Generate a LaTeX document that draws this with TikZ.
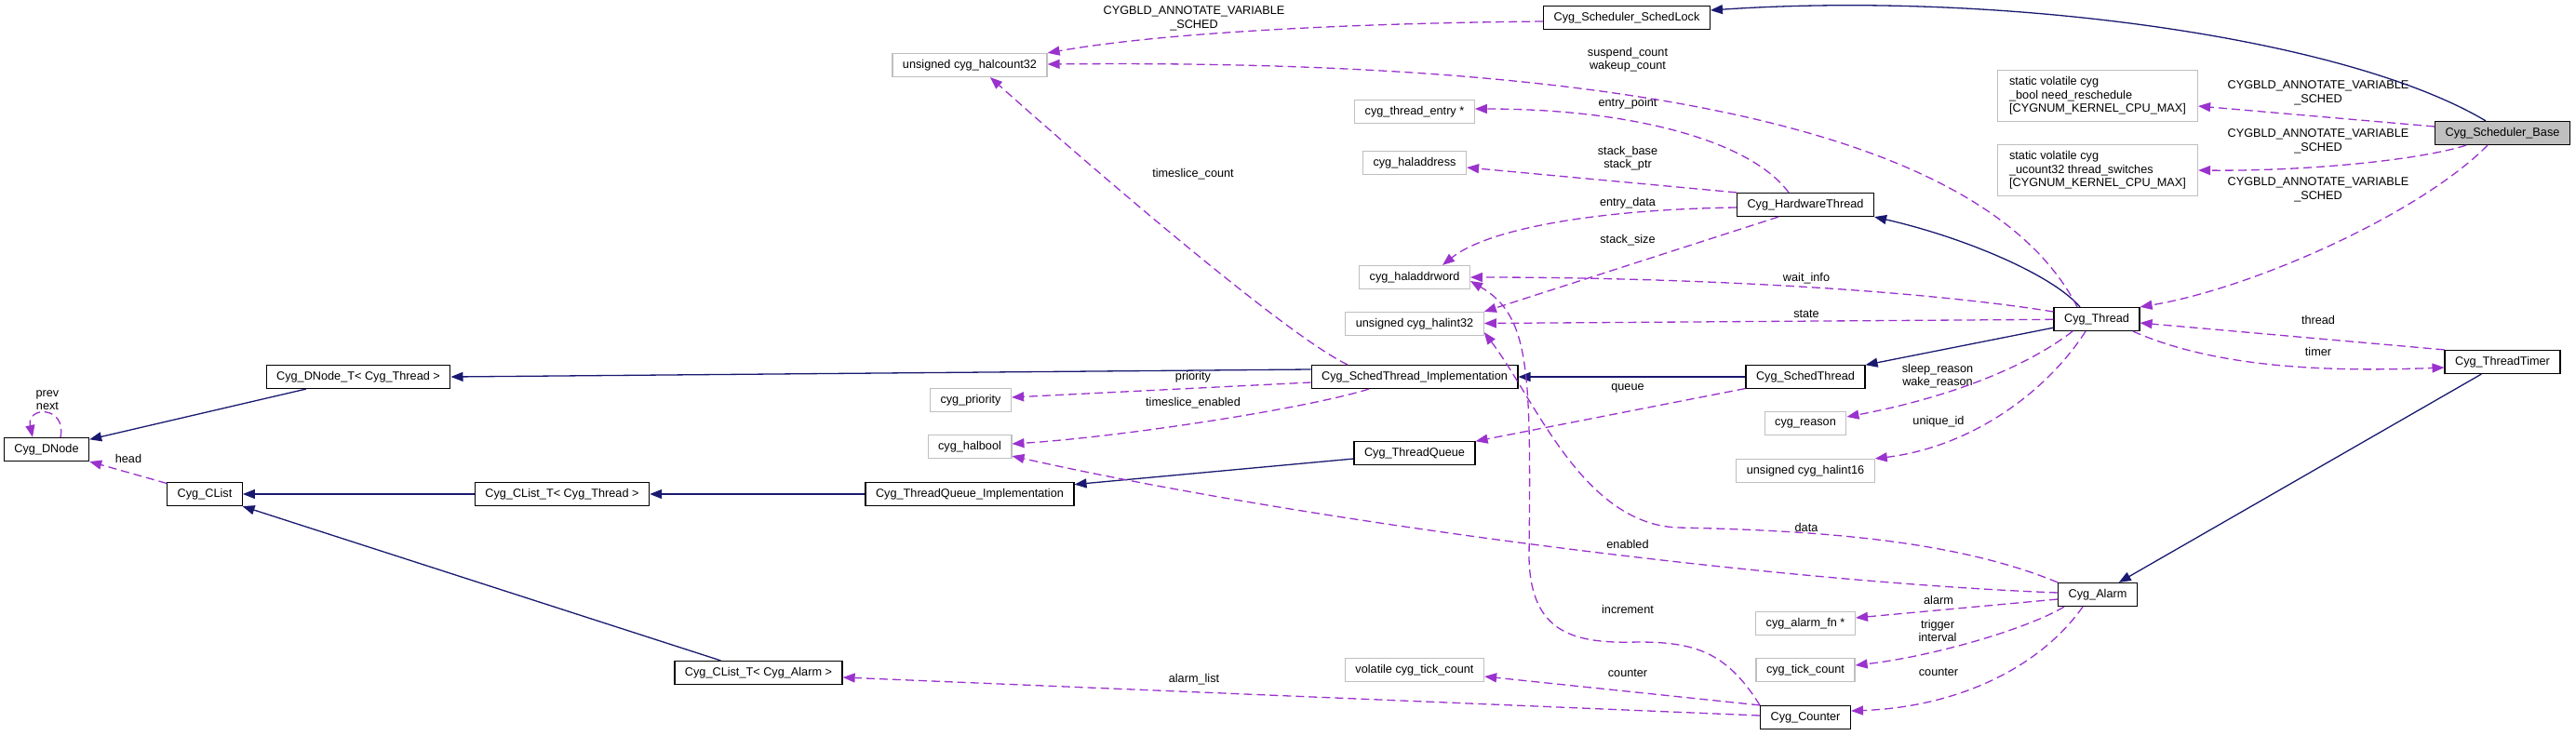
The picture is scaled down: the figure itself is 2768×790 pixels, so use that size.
\documentclass[tikz,border=0pt]{standalone}
\usepackage{fontspec}
\setmainfont{Liberation Sans}
\usepackage{xcolor}
\usetikzlibrary{arrows.meta,positioning}
\definecolor{inhcol}{HTML}{191970}
\definecolor{usecol}{HTML}{9A32CD}
\definecolor{typeframe}{HTML}{BFBFBF}
\definecolor{basegray}{HTML}{BFBFBF}

\begin{document}
\begin{tikzpicture}[
			x=1pt, y=-1pt,
			every node/.style={font=\fontsize{12.7pt}{14.5pt}\selectfont},
			classbox/.style={rectangle, draw=black, line width=1.2pt, fill=white, minimum height=25pt, inner xsep=11pt, inner ysep=2pt},
			typebox/.style={rectangle, draw=typeframe, line width=1.2pt, fill=white, minimum height=25pt, inner xsep=11pt, inner ysep=2pt},
			multibox/.style={typebox, align=left, minimum width=215pt, minimum height=55pt},
			lbl/.style={inner sep=0pt, align=center},
			inherit/.style={draw=inhcol, line width=1.3pt, -{Triangle[length=13pt,width=10pt]}},
			member/.style={draw=usecol, line width=1.3pt, dash pattern=on 9pt off 5pt, -{Triangle[length=13pt,width=10pt]}}
			]
			\useasboundingbox (0,0) rectangle (2768,790);
			% Nodos
			\node [classbox] (dnode) at (50,483) {Cyg\_DNode};
			\node [classbox] (dnodet) at (385,405) {Cyg\_DNode\_T< Cyg\_Thread >};
			\node [classbox] (clist) at (220,531) {Cyg\_CList};
			\node [classbox] (clistthread) at (604,531) {Cyg\_CList\_T< Cyg\_Thread >};
			\node [classbox] (clistalarm) at (815,723) {Cyg\_CList\_T< Cyg\_Alarm >};
			\node [classbox] (tqimpl) at (1042,531) {Cyg\_ThreadQueue\_Implementation};
			\node [typebox] (prio) at (1043,430) {cyg\_priority};
			\node [typebox] (halbool) at (1042,480) {cyg\_halbool};
			\node [typebox] (halcount) at (1042,70) {unsigned cyg\_halcount32};
			\node [classbox] (stimpl) at (1520,405) {Cyg\_SchedThread\_Implementation};
			\node [classbox] (tqueue) at (1520,487) {Cyg\_ThreadQueue};
			\node [typebox] (entry) at (1520,120) {cyg\_thread\_entry *};
			\node [typebox] (haladdr) at (1520,175) {cyg\_haladdress};
			\node [typebox] (haladdrword) at (1520,298) {cyg\_haladdrword};
			\node [typebox] (halint32) at (1520,348) {unsigned cyg\_halint32};
			\node [typebox] (vtick) at (1520,720) {volatile cyg\_tick\_count};
			\node [classbox] (schedlock) at (1748,19) {Cyg\_Scheduler\_SchedLock};
			\node [classbox] (hwthread) at (1940,220) {Cyg\_HardwareThread};
			\node [classbox] (schedthread) at (1940,405) {Cyg\_SchedThread};
			\node [typebox] (reason) at (1940,455) {cyg\_reason};
			\node [typebox] (halint16) at (1940,506) {unsigned cyg\_halint16};
			\node [typebox] (alarmfn) at (1940,670) {cyg\_alarm\_fn *};
			\node [typebox] (tick) at (1940,720) {cyg\_tick\_count};
			\node [classbox] (counter) at (1940,771) {Cyg\_Counter};
			\node [classbox] (thread) at (2253,343) {Cyg\_Thread};
			\node [classbox] (alarm) at (2254,639) {Cyg\_Alarm};
			\node [multibox] (needres) at (2254,103) {static volatile cyg\\\_bool need\_reschedule\\{}[CYGNUM\_KERNEL\_CPU\_MAX]};
			\node [multibox] (tswitch) at (2254,183) {static volatile cyg\\\_ucount32 thread\_switches\\{}[CYGNUM\_KERNEL\_CPU\_MAX]};
			\node [classbox, fill=basegray] (base) at (2689,143) {Cyg\_Scheduler\_Base};
			\node [classbox] (ttimer) at (2689,389) {Cyg\_ThreadTimer};

			% Etiquetas
			\node [lbl] (lprev) at (51,430) {prev\\next};
			\node [lbl] (lhead) at (138,493) {head};
			\node [lbl] (lsched) at (1283,20) {CYGBLD\_ANNOTATE\_VARIABLE\\\_SCHED};
			\node [lbl] (lsuspend) at (1749,64) {suspend\_count\\wakeup\_count};
			\node [lbl] (lslice) at (1282,187) {timeslice\_count};
			\node [lbl] (lentry) at (1749,111) {entry\_point};
			\node [lbl] (lstack) at (1749,170) {stack\_base\\stack\_ptr};
			\node [lbl] (ledata) at (1749,218) {entry\_data};
			\node [lbl] (lssize) at (1749,258) {stack\_size};
			\node [lbl] (lwait) at (1941,299) {wait\_info};
			\node [lbl] (lstate) at (1941,337) {state};
			\node [lbl] (lprio) at (1282,405) {priority};
			\node [lbl] (lslen) at (1282,433) {timeslice\_enabled};
			\node [lbl] (lqueue) at (1749,417) {queue};
			\node [lbl] (lreason) at (2082,404) {sleep\_reason\\wake\_reason};
			\node [lbl] (luid) at (2083,453) {unique\_id};
			\node [lbl] (ldata) at (1941,567) {data};
			\node [lbl] (lenabled) at (1749,585) {enabled};
			\node [lbl] (lincr) at (1749,655) {increment};
			\node [lbl] (lalarm) at (2083,645) {alarm};
			\node [lbl] (ltrig) at (2082,678) {trigger\\interval};
			\node [lbl] (lcntright) at (2083,722) {counter};
			\node [lbl] (lcntleft) at (1749,723) {counter};
			\node [lbl] (lalist) at (1283,730) {alarm\_list};
			\node [lbl] (lneedres) at (2491,100) {CYGBLD\_ANNOTATE\_VARIABLE\\\_SCHED};
			\node [lbl] (ltswitch) at (2491,152) {CYGBLD\_ANNOTATE\_VARIABLE\\\_SCHED};
			\node [lbl] (lcurrent) at (2491,204) {CYGBLD\_ANNOTATE\_VARIABLE\\\_SCHED};
			\node [lbl] (lthread) at (2491,344) {thread};
			\node [lbl] (ltimer) at (2491,378) {timer};

			% Herencia
			\path [inherit] (dnodet) -- (dnode);
			\path [inherit] (clistthread) -- (clist);
			\path [inherit] (clistalarm) -- (clist);
			\path [inherit] (tqimpl) -- (clistthread);
			\path [inherit] (tqueue) -- (tqimpl);
			\path [inherit] ([yshift=8pt]stimpl.west) -- (dnodet.east);
			\path [inherit] (schedthread) -- (stimpl);
			\path [inherit] (thread) -- (schedthread);
			\path [inherit] ([xshift=-18pt]thread.north) .. controls (2205,295) and (2110,255) .. (hwthread.south east);
			\path [inherit] ([xshift=-18pt]base.north) .. controls (2520,40) and (2150,-10) .. ([yshift=8pt]schedlock.east);
			\path [inherit] (ttimer) -- (alarm);

			% Miembros
			\path [member] ([xshift=15pt]dnode.north) .. controls (72,436) and (28,436) .. ([xshift=-15pt]dnode.north);
			\path [member] (clist) -- (dnode);
			\path [member] ([yshift=-4pt]schedlock.west) .. controls (1450,25) and (1250,35) .. (halcount.north east);
			\path [member] ([xshift=-21pt]thread.north) .. controls (2150,170) and (1850,62) .. ([yshift=1pt]halcount.east);
			\path [member] ([xshift=-72pt]stimpl.north) .. controls (1380,360) and (1150,160) .. ([xshift=22pt]halcount.south);
			\path [member] ([yshift=-6pt]stimpl.west) -- ([yshift=3pt]prio.east);
			\path [member] ([xshift=-49pt]stimpl.south) .. controls (1400,440) and (1200,470) .. ([yshift=3pt]halbool.east);
			\path [member] (schedthread) -- (tqueue);
			\path [member] (hwthread.north west) -- ([yshift=-5pt]haladdr.east);
			\path [member] ([xshift=-18pt]hwthread.north) .. controls (1880,150) and (1750,117) .. ([yshift=3pt]entry.east);
			\path [member] ([yshift=-3pt]hwthread.west) .. controls (1720,225) and (1600,245) .. ([xshift=30pt]haladdrword.north);
			\path [member] ([xshift=-29pt]hwthread.south) -- (halint32.north east);
			\path [member] ([yshift=8pt]thread.west) .. controls (2050,310) and (1800,298) .. (haladdrword.east);
			\path [member] (thread) -- (halint32);
			\path [member] ([xshift=-26pt]thread.south) .. controls (2170,400) and (2080,430) .. ([yshift=7pt]reason.east);
			\path [member] ([xshift=-12pt]thread.south) .. controls (2200,420) and (2120,480) .. (halint16.north east);
			\path [member] ([xshift=39pt]thread.south) .. controls (2380,395) and (2500,400) .. ([yshift=-6pt]ttimer.west);
			\path [member] (ttimer.north west) -- ([yshift=-4pt]thread.east);
			\path [member] ([yshift=7pt]base.west) -- ([yshift=-11pt]needres.east);
			\path [member] ([xshift=-39pt]base.south) .. controls (2600,172) and (2480,184) .. (tswitch.east);
			\path [member] ([xshift=-16pt]base.south) .. controls (2600,230) and (2420,310) .. (thread.north east);
			\path [member] (alarm.north west) .. controls (2100,580) and (1950,570) .. (1802,567) .. controls (1700,562) and (1650,430) .. ([yshift=4pt]halint32.south east);
			\path [member] ([yshift=2pt]alarm.west) .. controls (1900,625) and (1400,560) .. ([yshift=3pt]halbool.south east);
			\path [member] (counter.north west) .. controls (1855,700) and (1820,690) .. (1760,690) .. controls (1690,692) and (1645,680) .. (1643,600) .. controls (1645,400) and (1645,340) .. ([yshift=-4pt]haladdrword.east);
			\path [member] ([yshift=-5pt]alarm.west) -- ([yshift=6pt]alarmfn.east);
			\path [member] ([xshift=-36pt]alarm.south) .. controls (2180,675) and (2080,705) .. ([yshift=5pt]tick.east);
			\path [member] ([xshift=-16pt]alarm.south) .. controls (2190,720) and (2100,760) .. ([yshift=7pt]counter.east);
			\path [member] (counter.north west) -- ([yshift=-7pt]vtick.east);
			\path [member] ([yshift=2pt]counter.west) -- ([yshift=-5pt]clistalarm.east);
		\end{tikzpicture}
\end{document}
